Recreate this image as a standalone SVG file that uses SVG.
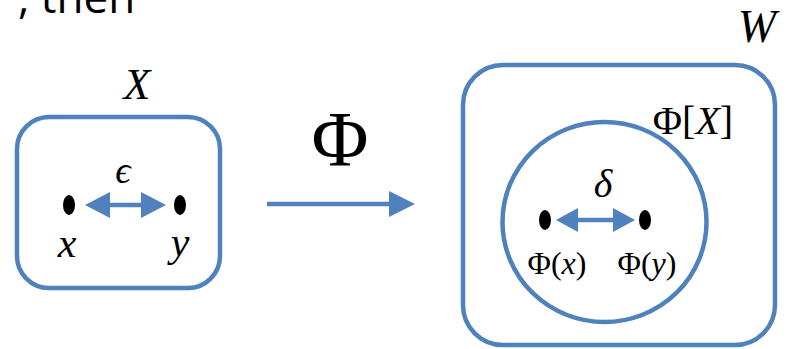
<svg xmlns="http://www.w3.org/2000/svg" width="792" height="349" viewBox="0 0 792 349">
<style>
.ln{fill:none;stroke:#4F81BD;stroke-width:4.5}
.hd{fill:#4F81BD}
.dot{fill:#000}
.m{font-family:"Liberation Serif","DejaVu Serif",serif;fill:#000}
.i{font-style:italic}
.t{font-family:"Open Sans","Liberation Sans",sans-serif;fill:#000}
</style>
<text class="t" x="18" y="13" font-size="44">, then</text>
<g id="X">
<rect class="ln" x="17" y="117" width="203" height="171" rx="32"/>
<text class="m i" x="137" y="99" font-size="44" text-anchor="middle">X</text>
</g>
<g id="x">
<ellipse class="dot" cx="69" cy="205" rx="6" ry="10"/>
<text class="m i" x="67" y="257" font-size="42" text-anchor="middle">x</text>
</g>
<g id="y">
<ellipse class="dot" cx="180" cy="205" rx="6" ry="10"/>
<text class="m i" x="180" y="256" font-size="42" text-anchor="middle">y</text>
</g>
<g id="W">
<rect class="ln" x="463" y="65" width="312" height="280" rx="40"/>
<text class="m i" x="757" y="42" font-size="46" text-anchor="middle">W</text>
</g>
<g id="PhiX">
<ellipse class="ln" cx="604.5" cy="222" rx="102" ry="100"/>
<text class="m" x="693" y="134" font-size="40" text-anchor="middle">Φ[<tspan class="i">X</tspan>]</text>
</g>
<g id="Phix">
<ellipse class="dot" cx="545" cy="220" rx="6" ry="10"/>
<text class="m" x="557" y="274" font-size="32" text-anchor="middle">Φ(<tspan class="i">x</tspan>)</text>
</g>
<g id="Phiy">
<ellipse class="dot" cx="645" cy="220" rx="6" ry="10"/>
<text class="m" x="647" y="274" font-size="32" text-anchor="middle">Φ(<tspan class="i">y</tspan>)</text>
</g>
<g id="connectors">
<line class="ln" x1="105" y1="205" x2="146" y2="205"/>
<polygon class="hd" points="85,205 110,192 110,218"/>
<polygon class="hd" points="166,205 141,192 141,218"/>
<text class="m i" x="123" y="183" font-size="38" text-anchor="middle">ϵ</text>
<line class="ln" x1="267" y1="204" x2="395" y2="204"/>
<polygon class="hd" points="415,204 389,191 389,217"/>
<text class="m" x="340" y="165" font-size="78" text-anchor="middle">Φ</text>
<line class="ln" x1="572" y1="220" x2="619" y2="220"/>
<polygon class="hd" points="556,220 578,208 578,232"/>
<polygon class="hd" points="635,220 613,208 613,232"/>
<text class="m i" x="603" y="197" font-size="40" text-anchor="middle">δ</text>
</g>
</svg>
